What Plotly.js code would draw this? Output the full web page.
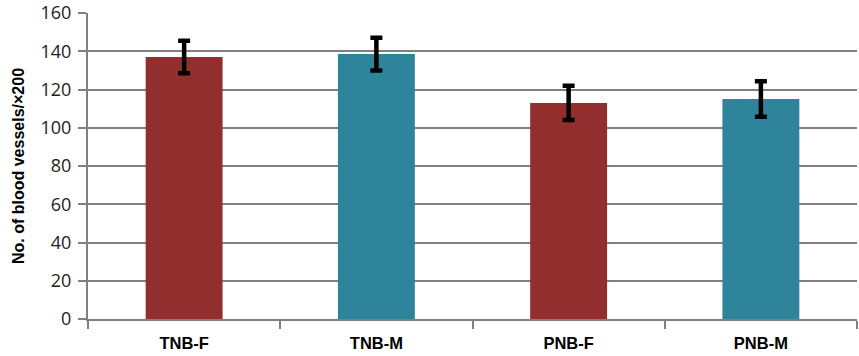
<!DOCTYPE html>
<html>
<head>
<meta charset="utf-8">
<script src="https://cdn.plot.ly/plotly-3.0.1.min.js"></script>
<style>html,body{margin:0;padding:0;background:#fff;}#chart{width:859px;height:356px;}</style>
</head>
<body>
<div id="chart"></div>
<script>
var categories = ["TNB-F", "TNB-M", "PNB-F", "PNB-M"];
var values = [137, 138.5, 113, 115];
var errors = [8.5, 8.5, 9, 9.3];
var barColors = ["#922f2e", "#2e849b", "#922f2e", "#2e849b"];
var yTicks = [0, 20, 40, 60, 80, 100, 120, 140, 160];

var trace = {
  type: "bar",
  x: categories,
  y: values,
  marker: {color: barColors},
  error_y: {type: "data", array: errors, visible: true, color: "#000", thickness: 4.5, width: 6},
  hoverinfo: "none"
};

var layout = {
  width: 859, height: 356,
  margin: {l: 88, r: 2, t: 13, b: 37},
  paper_bgcolor: "#fff", plot_bgcolor: "#fff",
  showlegend: false,
  bargap: 0.6,
  xaxis: {
    type: "category",
    tickson: "boundaries",
    ticks: "outside", ticklen: 8, tickwidth: 2, tickcolor: "#808080",
    showline: true, linecolor: "#808080", linewidth: 2,
    showgrid: false,
    ticklabelstandoff: 8,
    tickfont: {family: "Liberation Sans, Arial, sans-serif", size: 16.5, color: "#000", weight: "bold"},
    automargin: false
  },
  yaxis: {
    range: [0, 160],
    tickvals: yTicks,
    ticks: "outside", ticklen: 8, tickwidth: 2, tickcolor: "#808080",
    showline: true, linecolor: "#808080", linewidth: 2,
    showgrid: true, gridcolor: "#808080", gridwidth: 2,
    zeroline: false,
    ticklabelstandoff: 3,
    tickfont: {family: "Open Sans, sans-serif", size: 18, color: "#222"},
    title: {text: "No. of blood vessels/×200", font: {family: "Liberation Sans, Arial, sans-serif", size: 16, color: "#000", weight: "bold"}, standoff: 12},
    automargin: false
  }
};

Plotly.newPlot("chart", [trace], layout, {staticPlot: true, displayModeBar: false});
</script>
</body>
</html>
